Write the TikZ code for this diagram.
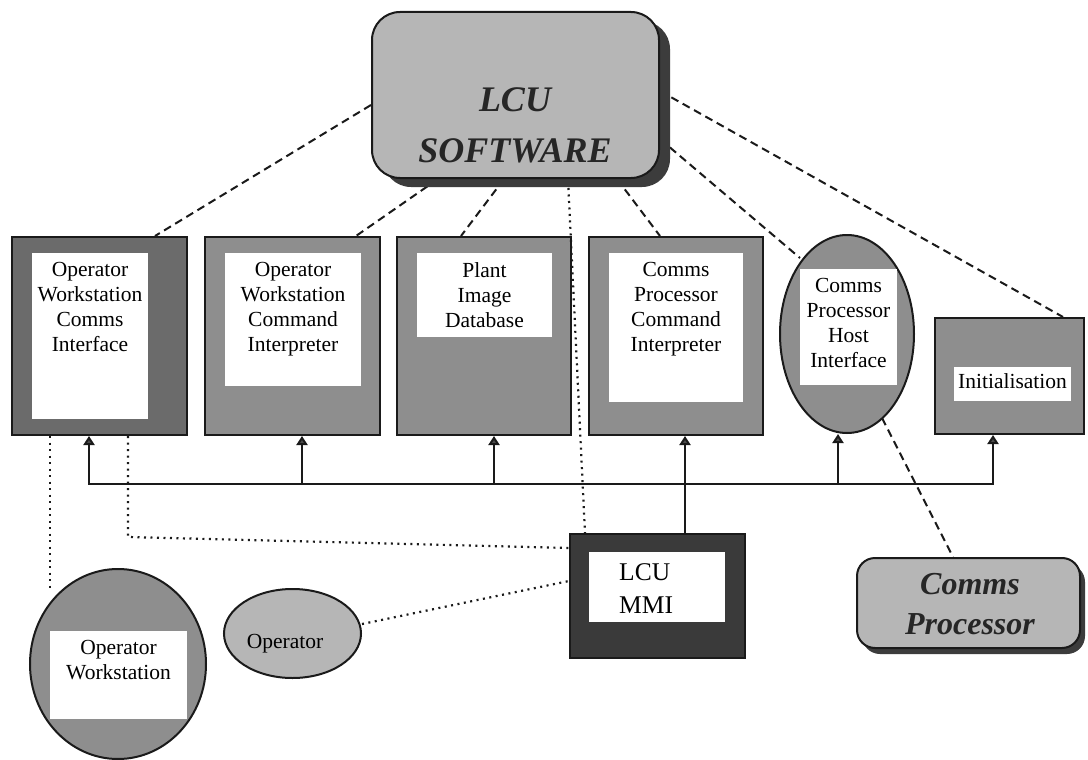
\documentclass[tikz,border=0pt]{standalone}
\usepackage{fontspec}
\setmainfont{Liberation Serif}
\usetikzlibrary{arrows.meta,calc,shapes.geometric,shadows}
\pgfdeclarelayer{background}
\pgfsetlayers{background,main}

\definecolor{edge}{HTML}{1A1A1A}
\definecolor{darkfill}{HTML}{6B6B6B}
\definecolor{midfill}{HTML}{8E8E8E}
\definecolor{lightfill}{HTML}{B6B6B6}
\definecolor{mmifill}{HTML}{3A3A3A}
\definecolor{shade}{HTML}{3C3C3C}

\begin{document}
\begin{tikzpicture}[x=1pt,y=-1pt,
  box/.style={draw=edge, line width=2pt, rectangle, inner sep=0pt, fill=midfill},
  pane/.style={rectangle, fill=white, inner sep=0pt, draw=none},
  oval/.style={draw=edge, line width=2pt, ellipse, inner sep=0pt, fill=midfill},
  lbl/.style={font=\fontsize{21.5}{25}\selectfont, align=center, inner sep=0pt, anchor=north, text=black},
  title/.style={draw=edge, line width=2pt, fill=lightfill, inner sep=0pt},
  titletext/.style={font=\bfseries\itshape, align=center, inner sep=0pt, anchor=north, text=black!85},
  link/.style={line width=2pt, dash pattern=on 8pt off 5pt, draw=edge},
  dots/.style={line width=2.2pt, dash pattern=on 2pt off 4.5pt, draw=edge},
  bus/.style={line width=2pt, draw=edge},
  feed/.style={line width=2pt, draw=edge, -{Triangle[width=11pt,length=9pt,fill=black!70]}},
]
\useasboundingbox (0,0) rectangle (1088,760);
\begin{pgfonlayer}{background}
  \fill[white] (0,0) rectangle (1088,760);
\end{pgfonlayer}

% top-level software block
\node[title, rounded corners=28pt, minimum width=287pt, minimum height=166pt,
      drop shadow={shadow xshift=11pt, shadow yshift=-9pt, opacity=1, fill=shade}] (lcu) at (515.5,95) {};
\node[titletext, font=\fontsize{36}{51}\selectfont\bfseries\itshape] (lcut) at (515,87) {LCU\\SOFTWARE};

% software modules
\node[box, fill=darkfill, minimum width=175pt, minimum height=198pt] (b1) at (99.5,336) {};
\node[pane, minimum width=116pt, minimum height=166pt] (p1) at (90,336) {};
\node[lbl] (t1) at (90,262) {Operator\\Workstation\\Comms\\Interface};

\node[box, minimum width=175pt, minimum height=198pt] (b2) at (292.5,336) {};
\node[pane, minimum width=136pt, minimum height=133pt] (p2) at (293,319.5) {};
\node[lbl] (t2) at (293,262) {Operator\\Workstation\\Command\\Interpreter};

\node[box, minimum width=174pt, minimum height=198pt] (b3) at (484,336) {};
\node[pane, minimum width=135pt, minimum height=84pt] (p3) at (484.5,295) {};
\node[lbl] (t3) at (484.5,262) {Plant\\Image\\Database};

\node[box, minimum width=174pt, minimum height=198pt] (b4) at (676,336) {};
\node[pane, minimum width=134pt, minimum height=149pt] (p4) at (676,327.5) {};
\node[lbl] (t4) at (676,262) {Comms\\Processor\\Command\\Interpreter};

\node[oval, minimum width=134pt, minimum height=198pt] (ell) at (847,334) {};
\node[pane, minimum width=97pt, minimum height=116pt] (p5) at (848.5,327) {};
\node[lbl] (t5) at (848.5,278) {Comms\\Processor\\Host\\Interface};

\node[box, minimum width=149pt, minimum height=116pt] (init) at (1009.5,376) {};
\node[pane, minimum width=117pt, minimum height=34pt] (p6) at (1012.5,384) {};
\node[lbl, anchor=base] (t6) at (1012.5,388) {Initialisation};

% external parts
\node[oval, minimum width=176pt, minimum height=190pt] (ows) at (118,664) {};
\node[pane, minimum width=137pt, minimum height=88pt] (p7) at (118.5,675) {};
\node[lbl] (t7) at (118.5,640) {Operator\\Workstation};

\node[oval, fill=lightfill, minimum width=137pt, minimum height=89pt] (op) at (292.5,633.5) {};
\node[lbl, anchor=base] (t8) at (285,648) {Operator};

\node[box, fill=mmifill, minimum width=175pt, minimum height=124pt] (mmi) at (657.5,596) {};
\node[pane, minimum width=136pt, minimum height=70pt] (p9) at (657,587) {};
\node[lbl, font=\fontsize{25.5}{33}\selectfont, align=left, anchor=north west] (t9) at (619,563) {LCU\\MMI};

\node[title, rounded corners=18pt, minimum width=223pt, minimum height=90pt,
      drop shadow={shadow xshift=5pt, shadow yshift=-6pt, opacity=1, fill=shade}] (cp) at (968.5,603) {};
\node[titletext, font=\fontsize{32}{40}\selectfont\bfseries\itshape] (cpt) at (970,573) {Comms\\Processor};

% dashed links from the software block
\begin{pgfonlayer}{background}
  \draw[link] (lcu.west |- 0,105) -- (b1.north -| 155,0);
  \draw[link] (lcu.south -| 438,0) -- (b2.north -| 356,0);
  \draw[link] (lcu.south -| 504,0) -- (b3.north -| 461,0);
  \draw[link] (lcu.south -| 617,0) -- (b4.north -| 660,0);
  \draw[link] (lcu.east |- 0,139) -- ($(ell.center)+(-47,-76)$);
  \draw[link] (lcu.east |- 0,91) -- (init.north -| 1063,0);
  \draw[link] ($(ell.center)+(35,84)$) -- (cp.north -| 953,0);
\end{pgfonlayer}

% dotted links
\draw[dots, shorten <=9pt] (lcu.south -| 568,0) -- (mmi.north -| 585,0);
\coordinate (owtop) at (50,589);
\draw[dots] (b1.south -| owtop) -- (owtop);
\coordinate (elbow) at (128,537);
\draw[dots] (b1.south -| elbow) -- (elbow) -- (mmi.west |- 0,548);
\draw[dots] (op.east |- 0,624) -- (mmi.west |- 0,581);

% command bus
\coordinate (busL) at (89,484);
\coordinate (j2) at (302,484);
\coordinate (j3) at (494,484);
\coordinate (j5) at (838,484);
\coordinate (busR) at (993,484);
\draw[bus, line cap=rect] (busL) -- (busR);
\draw[feed] (busL) -- (b1.south -| busL);
\draw[feed] (j2) -- (b2.south -| j2);
\draw[feed] (j3) -- (b3.south -| j3);
\draw[feed] (j5) -- (ell.south -| j5);
\draw[feed] (busR) -- (init.south -| busR);
\draw[feed] (mmi.north -| 685,0) -- (b4.south -| 685,0);
\end{tikzpicture}
\end{document}
